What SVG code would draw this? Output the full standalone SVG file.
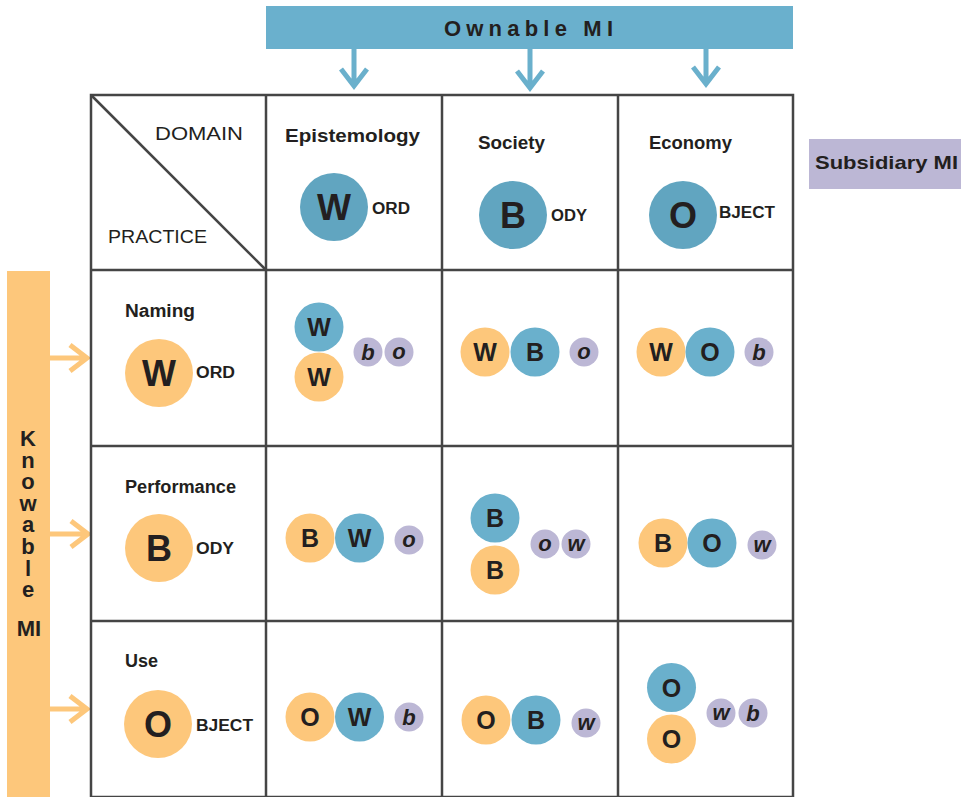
<svg xmlns="http://www.w3.org/2000/svg" width="961" height="797" viewBox="0 0 961 797">
<style>
text{font-family:"Liberation Sans",Arial,Helvetica,sans-serif;fill:#231f20;}
.b{font-weight:bold;}
.lab{font-weight:bold;font-size:18px;}
.suf{font-weight:bold;font-size:16px;}
.reg{font-size:19px;}
.big{font-weight:bold;font-size:36px;text-anchor:middle;}
.sm{font-weight:bold;font-size:25px;text-anchor:middle;}
.it{font-weight:bold;font-style:italic;font-size:22px;text-anchor:middle;}
.kn{font-weight:bold;font-size:22px;text-anchor:middle;}
.vert{font-weight:bold;font-size:22px;writing-mode:vertical-rl;text-orientation:upright;letter-spacing:-3.4px;}
.grid{stroke:#454545;stroke-width:2.5;fill:none;}
.hb{fill:#61a5c0;}
.bl{fill:#6ab0cc;}
.or{fill:#fdc77b;}
.lv{fill:#bcb7d5;}
.arrB{stroke:#6ab0cc;stroke-width:5;fill:none;}
.arrO{stroke:#fdc77b;stroke-width:5;fill:none;}
</style>

<g id="ownable-mi">
<rect x="266" y="6" width="527" height="43" fill="#6ab0cd"/>
<text x="444" y="36" class="b" font-size="22" textLength="169" lengthAdjust="spacing">Ownable  MI</text>
</g>

<g id="subsidiary-mi">
<rect x="809" y="139" width="152" height="50" fill="#bcb7d5"/>
<text x="815" y="169" class="b" font-size="19" textLength="143" lengthAdjust="spacingAndGlyphs">Subsidiary  MI</text>
</g>

<g id="knowable-mi">
<rect x="7" y="271" width="43" height="526" fill="#fdc77b"/>
<text x="28" y="426" class="vert">Knowable</text>
<text x="29" y="636" class="kn" font-size="23">MI</text>
</g>

<g id="connectors">
<path class="arrB" d="M354 49V86M341 69L354 86L367 69"/>
<path class="arrB" d="M530 49V88M517 71L530 88L543 71"/>
<path class="arrB" d="M706 49V84M693 67L706 84L719 67"/>
<path class="arrO" d="M50 358H87M70 345L87 358L70 371"/>
<path class="arrO" d="M50 534H88M71 521L88 534L71 547"/>
<path class="arrO" d="M50 709H87M70 696L87 709L70 722"/>
</g>

<g id="grid">
<path class="grid" d="M91 95H793V797H91Z"/>
<path class="grid" d="M266 95V797M442 95V797M618 95V797M91 270H793M91 446H793M91 621H793"/>
<path class="grid" d="M91 95L266 270"/>
</g>

<g id="corner">
<text x="155" y="140" class="reg" textLength="88" lengthAdjust="spacingAndGlyphs">DOMAIN</text>
<text x="108" y="243" class="reg" textLength="99" lengthAdjust="spacingAndGlyphs">PRACTICE</text>
</g>

<g id="col-epistemology">
<text x="285" y="142" class="lab" textLength="135" lengthAdjust="spacingAndGlyphs">Epistemology</text>
<circle cx="334" cy="207" r="34" class="hb"/>
<text x="334" y="220" class="big" font-size="35">W</text>
<text x="372" y="214" class="suf" textLength="38" lengthAdjust="spacingAndGlyphs">ORD</text>
</g>

<g id="col-society">
<text x="478" y="149" class="lab" textLength="67" lengthAdjust="spacingAndGlyphs">Society</text>
<circle cx="513" cy="215" r="34" class="hb"/>
<text x="513" y="228" class="big">B</text>
<text x="551" y="221" class="suf" textLength="36" lengthAdjust="spacingAndGlyphs">ODY</text>
</g>

<g id="col-economy">
<text x="649" y="149" class="lab" textLength="83" lengthAdjust="spacingAndGlyphs">Economy</text>
<circle cx="683" cy="215" r="34" class="hb"/>
<text x="683" y="228" class="big">O</text>
<text x="719" y="218" class="suf" textLength="56" lengthAdjust="spacingAndGlyphs">BJECT</text>
</g>

<g id="row-naming">
<text x="125" y="317" class="lab" textLength="70" lengthAdjust="spacingAndGlyphs">Naming</text>
<circle cx="159" cy="373" r="34" class="or"/>
<text x="159" y="386" class="big">W</text>
<text x="196" y="378" class="suf" textLength="39" lengthAdjust="spacingAndGlyphs">ORD</text>
</g>

<g id="row-performance">
<text x="125" y="493" class="lab" textLength="111" lengthAdjust="spacingAndGlyphs">Performance</text>
<circle cx="159" cy="548" r="34" class="or"/>
<text x="159" y="561" class="big">B</text>
<text x="196" y="554" class="suf" textLength="38" lengthAdjust="spacingAndGlyphs">ODY</text>
</g>

<g id="row-use">
<text x="125" y="667" class="lab" textLength="33" lengthAdjust="spacingAndGlyphs">Use</text>
<circle cx="158" cy="724" r="34" class="or"/>
<text x="158" y="737" class="big">O</text>
<text x="196" y="731" class="suf" textLength="57" lengthAdjust="spacingAndGlyphs">BJECT</text>
</g>

<g id="cell-naming-epistemology">
<circle cx="319" cy="327" r="24.5" class="bl"/><text x="319" y="336" class="sm">W</text>
<circle cx="319" cy="377" r="24.5" class="or"/><text x="319" y="386" class="sm">W</text>
<circle cx="368" cy="352" r="14.5" class="lv"/><text x="368" y="360" class="it">b</text>
<circle cx="399" cy="352" r="14.5" class="lv"/><text x="399" y="359" class="it">o</text>
</g>

<g id="cell-naming-society">
<circle cx="485" cy="352" r="24.5" class="or"/><text x="485" y="361" class="sm">W</text>
<circle cx="535" cy="352" r="24.5" class="bl"/><text x="535" y="361" class="sm">B</text>
<circle cx="584" cy="352" r="14.5" class="lv"/><text x="584" y="359" class="it">o</text>
</g>

<g id="cell-naming-economy">
<circle cx="661" cy="352" r="24.5" class="or"/><text x="661" y="361" class="sm">W</text>
<circle cx="710" cy="352" r="24.5" class="bl"/><text x="710" y="361" class="sm">O</text>
<circle cx="759" cy="352" r="14.5" class="lv"/><text x="759" y="360" class="it">b</text>
</g>

<g id="cell-performance-epistemology">
<circle cx="310" cy="538" r="24.5" class="or"/><text x="310" y="547" class="sm">B</text>
<circle cx="359.5" cy="538" r="24.5" class="bl"/><text x="359.5" y="547" class="sm">W</text>
<circle cx="409" cy="540" r="14.5" class="lv"/><text x="409" y="547" class="it">o</text>
</g>

<g id="cell-performance-society">
<circle cx="495" cy="518" r="24.5" class="bl"/><text x="495" y="527" class="sm">B</text>
<circle cx="495" cy="570" r="24.5" class="or"/><text x="495" y="579" class="sm">B</text>
<circle cx="545" cy="544" r="14.5" class="lv"/><text x="545" y="551" class="it">o</text>
<circle cx="576" cy="544" r="14.5" class="lv"/><text x="576" y="551" class="it">w</text>
</g>

<g id="cell-performance-economy">
<circle cx="663" cy="543" r="24.5" class="or"/><text x="663" y="552" class="sm">B</text>
<circle cx="712" cy="543" r="24.5" class="bl"/><text x="712" y="552" class="sm">O</text>
<circle cx="762" cy="545" r="14.5" class="lv"/><text x="762" y="552" class="it">w</text>
</g>

<g id="cell-use-epistemology">
<circle cx="310" cy="717" r="24.5" class="or"/><text x="310" y="726" class="sm">O</text>
<circle cx="359.5" cy="717" r="24.5" class="bl"/><text x="359.5" y="726" class="sm">W</text>
<circle cx="409" cy="717" r="14.5" class="lv"/><text x="409" y="725" class="it">b</text>
</g>

<g id="cell-use-society">
<circle cx="486" cy="720" r="24.5" class="or"/><text x="486" y="729" class="sm">O</text>
<circle cx="536" cy="720" r="24.5" class="bl"/><text x="536" y="729" class="sm">B</text>
<circle cx="586" cy="723" r="14.5" class="lv"/><text x="586" y="730" class="it">w</text>
</g>

<g id="cell-use-economy">
<circle cx="671.5" cy="687.5" r="24.5" class="bl"/><text x="671.5" y="696.5" class="sm">O</text>
<circle cx="671.5" cy="739" r="24.5" class="or"/><text x="671.5" y="748" class="sm">O</text>
<circle cx="721" cy="713" r="14.5" class="lv"/><text x="721" y="720" class="it">w</text>
<circle cx="753" cy="713" r="14.5" class="lv"/><text x="753" y="721" class="it">b</text>
</g>
</svg>
